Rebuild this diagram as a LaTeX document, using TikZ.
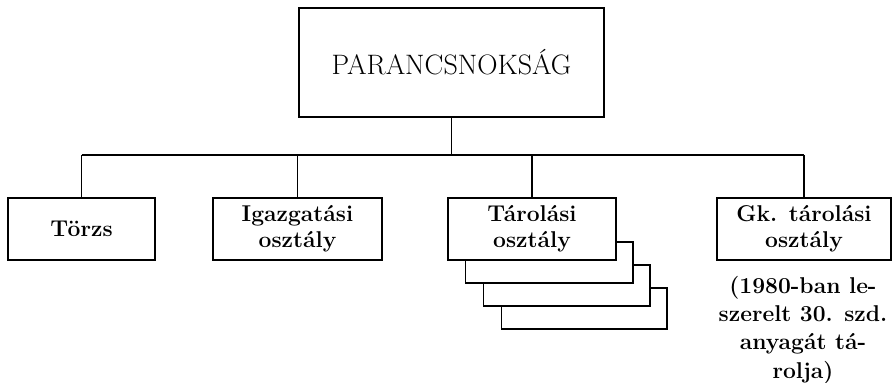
\documentclass[tikz,border=0pt]{standalone}

\begin{document}
\begin{tikzpicture}[x=0.3mm, y=-0.3mm, line width=1pt,
    box/.style={draw, inner sep=0pt, align=center, minimum height=18.6mm,
        font=\bfseries\fontsize{19.5}{22}\selectfont}]
\useasboundingbox (0, 0) rectangle (893, 382);

    \node[draw, inner sep=0pt, minimum width=91.5mm, minimum height=32.7mm,
        font=\fontsize{24}{28}\selectfont] (cmd) at (451.5, 62.5) {PARANCSNOKSÁG};

    \node[box, minimum width=44.1mm] (torzs) at (81.5, 229) {Törzs};
    \node[box, minimum width=50.7mm] (igaz) at (297.5, 229) {Igazgatási\\osztály};
    \node[box, minimum width=50.4mm] (tar) at (532, 229) {Tárolási\\osztály};
    \node[box, minimum width=52.2mm] (gk) at (804, 229) {Gk. tárolási\\osztály};

    \node[anchor=north, inner sep=0pt, align=center,
        font=\bfseries\fontsize{19.5}{24}\selectfont] (note) at (803, 276)
        {(1980-ban le-\\szerelt 30. szd.\\anyagát tá-\\rolja)};

    \coordinate (bus) at (451.5, 155);
    \draw (cmd.south) -- (bus);
    \draw (torzs.north |- bus) -- (gk.north |- bus);
    \draw (torzs.north |- bus) -- (torzs.north);
    \draw (igaz.north |- bus) -- (igaz.north);
    \draw (tar.north |- bus) -- (tar.north);
    \draw (gk.north |- bus) -- (gk.north);

    % copies behind the storage box
    \foreach \k in {1,2,3} {
        \draw ({616+17*(\k-1)}, {242+23*(\k-1)}) -- ++(17, 0)
            -- ({616+17*\k}, {260+23*\k}) -- ({448+17.7*\k}, {260+23*\k})
            -- ({448+17.7*\k}, {260+23*(\k-1)});
    }
\end{tikzpicture}
\end{document}
